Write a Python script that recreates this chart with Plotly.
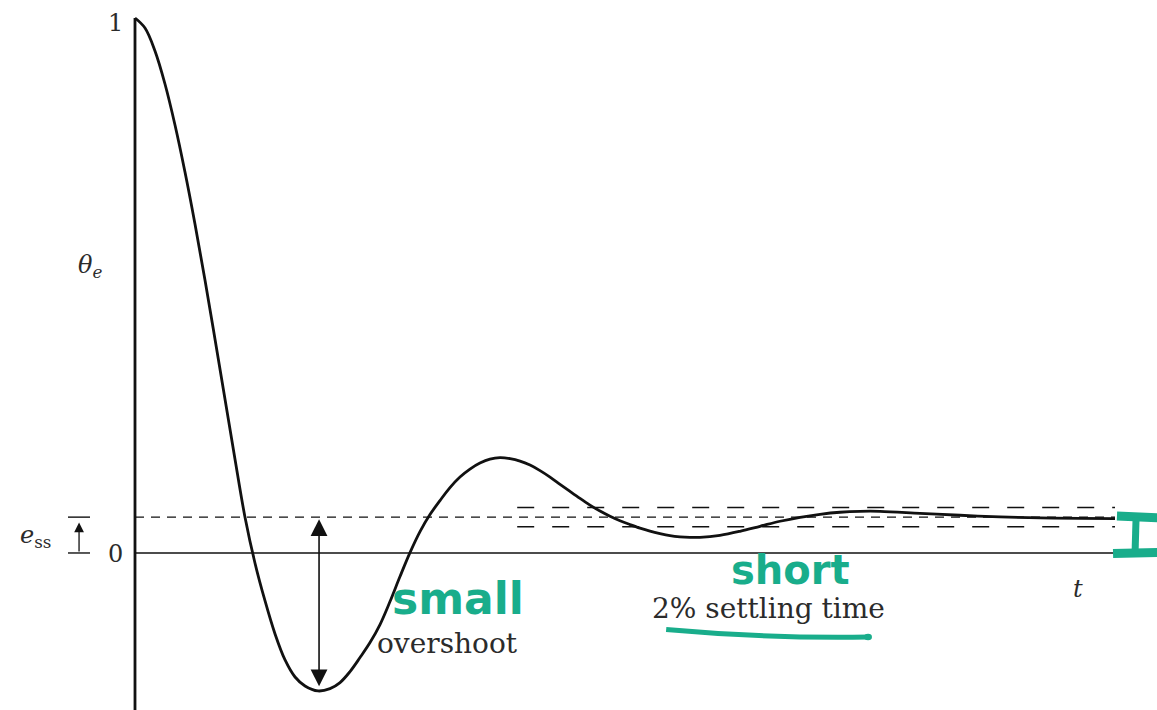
import plotly.graph_objects as go

# Error response theta_e(t): damped oscillation settling to a steady-state error
t_vals = [0.000, 0.102, 0.204, 0.306, 0.408, 0.510, 0.612, 0.714, 0.816, 0.918,
          1.020, 1.122, 1.224, 1.327, 1.429, 1.531, 1.633, 1.735, 1.867, 1.990,
          2.092, 2.194, 2.296, 2.398, 2.500, 2.602, 2.704, 2.806, 2.908, 3.010,
          3.112, 3.214, 3.316, 3.418, 3.520, 3.622, 3.724, 3.827, 3.929, 4.031,
          4.133, 4.235, 4.337, 4.439, 4.541, 4.643, 4.745, 4.847, 4.949, 5.051,
          5.153, 5.255, 5.357, 5.459, 5.561, 5.663, 5.765, 5.969, 6.173, 6.378,
          6.582, 6.786, 6.990, 7.194, 7.398, 7.602, 8.010, 8.418, 8.827, 9.235,
          9.643, 10.000]
theta_vals = [1.0000, 0.9813, 0.9383, 0.8766, 0.8000, 0.7121, 0.6150, 0.5103, 0.4000, 0.2879,
              0.1757, 0.0673, -0.0187, -0.0897, -0.1514, -0.2000, -0.2318, -0.2486, -0.2579, -0.2535,
              -0.2422, -0.2217, -0.1955, -0.1675, -0.1338, -0.0908, -0.0441, 0.0007, 0.0400, 0.0718,
              0.0979, 0.1222, 0.1419, 0.1568, 0.1680, 0.1755, 0.1783, 0.1764, 0.1718, 0.1643,
              0.1540, 0.1419, 0.1284, 0.1150, 0.1019, 0.0895, 0.0783, 0.0686, 0.0602, 0.0531,
              0.0465, 0.0409, 0.0363, 0.0325, 0.0303, 0.0293, 0.0293, 0.0331, 0.0406, 0.0499,
              0.0593, 0.0667, 0.0723, 0.0761, 0.0779, 0.0779, 0.0742, 0.0705, 0.0675, 0.0656,
              0.0645, 0.0641]

e_ss = 0.067          # steady-state error
band_half = 0.018     # half-width of the settling band
band_start = 3.90     # where the settling band is drawn from
t_end = 10.0
t_settle = 6.41       # settling-time tick on the time axis

INK = "#111111"
TXT = "#2b2b2b"
GREEN = "#19ad8b"
SERIF = "DejaVu Serif"

x_range = [-1.3776, 10.4286]
y_range = [-0.2935, 1.0336]

fig = go.Figure()

fig.add_trace(go.Scatter(
    x=t_vals, y=theta_vals, mode="lines",
    line=dict(color=INK, width=2.8, shape="spline", smoothing=1.0),
    hoverinfo="skip", showlegend=False,
))

shapes = [
    # vertical axis
    dict(type="line", x0=0, x1=0, y0=y_range[0], y1=1.0,
         line=dict(color=INK, width=2.8)),
    # zero line
    dict(type="line", x0=0, x1=t_end, y0=0, y1=0,
         line=dict(color=INK, width=1.4)),
    # steady-state error level
    dict(type="line", x0=0, x1=t_end, y0=e_ss, y1=e_ss,
         line=dict(color=INK, width=1.4, dash="9px,7px")),
    # settling band
    dict(type="line", x0=band_start, x1=t_end, y0=e_ss + band_half, y1=e_ss + band_half,
         line=dict(color=INK, width=1.4, dash="17px,18px")),
    dict(type="line", x0=band_start, x1=t_end, y0=e_ss - band_half, y1=e_ss - band_half,
         line=dict(color=INK, width=1.4, dash="17px,18px")),
    # settling-time tick
    dict(type="line", x0=t_settle, x1=t_settle, y0=0, y1=-0.026,
         line=dict(color=INK, width=1.2)),
    # e_ss bracket bars
    dict(type="line", x0=-0.684, x1=-0.459, y0=e_ss, y1=e_ss,
         line=dict(color=INK, width=1.4)),
    dict(type="line", x0=-0.684, x1=-0.459, y0=0, y1=0,
         line=dict(color=INK, width=1.4)),
    # green underline
    dict(type="path", path="M 5.42,-0.143 Q 6.45,-0.160 7.48,-0.157",
         line=dict(color=GREEN, width=5)),
    dict(type="circle", x0=7.44, x1=7.52, y0=-0.163, y1=-0.151,
         fillcolor=GREEN, line=dict(color=GREEN, width=0)),
    # green bracket marking e_ss on the right
    dict(type="path", path="M 10.02,0.069 L 10.43,0.066",
         line=dict(color=GREEN, width=9)),
    dict(type="path", path="M 10.215,0.066 L 10.205,0.002",
         line=dict(color=GREEN, width=7)),
    dict(type="path", path="M 9.98,-0.001 L 10.43,0.001",
         line=dict(color=GREEN, width=9)),
]

annotations = [
    # overshoot double arrow
    dict(x=1.878, y=e_ss - 0.004, ax=1.878, ay=min(theta_vals) + 0.006,
         xref="x", yref="y", axref="x", ayref="y", text="",
         showarrow=True, arrowhead=2, arrowside="end+start",
         arrowsize=2.1, arrowwidth=1.6, arrowcolor=INK),
    # e_ss arrow
    dict(x=-0.571, y=e_ss - 0.01, ax=-0.571, ay=0,
         xref="x", yref="y", axref="x", ayref="y", text="",
         showarrow=True, arrowhead=2, arrowsize=1.5, arrowwidth=1.3,
         arrowcolor=INK),
    dict(x=-0.194, y=0.991, text="1", showarrow=False,
         font=dict(family=SERIF, size=24, color=TXT)),
    dict(x=-0.194, y=-0.002, text="0", showarrow=False,
         font=dict(family=SERIF, size=24, color=TXT)),
    dict(x=-0.46, y=0.536, text="<i>θ</i><sub><i>e</i></sub>", showarrow=False,
         font=dict(family=SERIF, size=24, color=TXT)),
    dict(x=-1.02, y=0.030, text="<i>e</i><sub>ss</sub>", showarrow=False,
         font=dict(family=SERIF, size=24, color=TXT)),
    dict(x=9.622, y=-0.067, text="<i>t</i>", showarrow=False,
         font=dict(family=SERIF, size=24, color=TXT)),
    dict(x=3.184, y=-0.170, text="overshoot", showarrow=False,
         font=dict(family=SERIF, size=28, color=TXT)),
    dict(x=6.469, y=-0.1045, text="2% settling time", showarrow=False,
         font=dict(family=SERIF, size=28, color=TXT)),
    dict(x=3.296, y=-0.085, text="small", showarrow=False,
         font=dict(family="DejaVu Sans", size=44, color=GREEN, weight=700)),
    dict(x=6.684, y=-0.032, text="short", showarrow=False,
         font=dict(family="DejaVu Sans", size=40, color=GREEN, weight=700)),
]

fig.update_layout(
    width=1157, height=710,
    margin=dict(l=0, r=0, t=0, b=0),
    paper_bgcolor="white", plot_bgcolor="white",
    xaxis=dict(range=x_range, visible=False, fixedrange=True),
    yaxis=dict(range=y_range, visible=False, fixedrange=True),
    shapes=shapes, annotations=annotations,
    showlegend=False,
)

fig.write_html("out.html")
